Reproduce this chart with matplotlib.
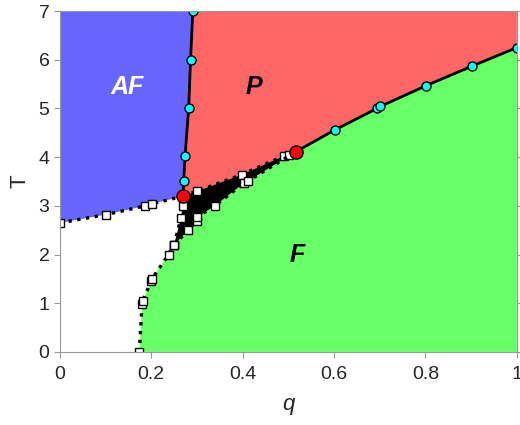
import numpy as np
import matplotlib.pyplot as plt

plt.rcParams['font.family'] = ['Liberation Sans', 'DejaVu Sans']

# frontera AF | P (linea solida, circulos cian)
q_afp = [0.270, 0.271, 0.274, 0.282, 0.286, 0.291]
T_afp = [3.20, 3.51, 4.02, 5.01, 5.99, 7.00]

# frontera P | F (linea solida, circulos cian)
q_pf = [0.516, 0.602, 0.694, 0.701, 0.802, 0.902, 1.000]
T_pf = [4.11, 4.56, 5.00, 5.04, 5.47, 5.87, 6.25]

# frontera AF | blanco (punteada, cuadrados)
q_afw = [0.0, 0.101, 0.187, 0.202, 0.270]
T_afw = [2.65, 2.82, 3.00, 3.04, 3.20]

# frontera blanco | F (punteada, cuadrados)
q_wf = [0.174, 0.180, 0.181, 0.200, 0.201, 0.238, 0.250]
T_wf = [0.00, 0.98, 1.05, 1.45, 1.49, 2.00, 2.20]

# region negra: borde izquierdo, superior e inferior
q_bl = [0.250, 0.265, 0.269, 0.270]
T_bl = [2.20, 2.75, 3.00, 3.20]
q_bu = [0.270, 0.300, 0.398, 0.491, 0.502, 0.516]
T_bu = [3.20, 3.30, 3.64, 4.03, 4.04, 4.11]
q_bd = [0.250, 0.281, 0.300, 0.301, 0.339, 0.402, 0.412, 0.516]
T_bd = [2.20, 2.50, 2.69, 2.77, 3.00, 3.46, 3.51, 4.11]

# puntos triples
q_tri = [0.270, 0.516]
T_tri = [3.20, 4.11]

fig = plt.figure(figsize=(5.2, 4.25), dpi=100)
ax = fig.add_axes([0.115, 0.172, 0.879, 0.802])

azul = '#6666ff'
rojo = '#ff6666'
verde = '#66ff66'

# AF
px = np.concatenate([q_afw, q_afp, [0.0]])
py = np.concatenate([T_afw, T_afp, [7.0]])
ax.fill(px, py, color=azul, lw=0)

# P
px = np.concatenate([q_afp, [1.0], q_pf[::-1], q_bu[::-1]])
py = np.concatenate([T_afp, [7.0], T_pf[::-1], T_bu[::-1]])
ax.fill(px, py, color=rojo, lw=0)

# F
px = np.concatenate([q_wf, q_bd, q_pf, [1.0]])
py = np.concatenate([T_wf, T_bd, T_pf, [0.0]])
ax.fill(px, py, color=verde, lw=0)

# region negra
px = np.concatenate([q_bl, q_bu, q_bd[::-1]])
py = np.concatenate([T_bl, T_bu, T_bd[::-1]])
ax.fill(px, py, color='black', lw=0)

# lineas punteadas con cuadrados
for qq, tt in [(q_afw, T_afw), (q_wf, T_wf), (q_bl, T_bl), (q_bu, T_bu), (q_bd, T_bd)]:
    ax.plot(qq, tt, ':', color='black', lw=2.4)
    ax.plot(qq, tt, 's', ms=5.5, mfc='white', mec='black', mew=1)

# lineas solidas con circulos
ax.plot(q_afp, T_afp, '-', color='black', lw=2)
ax.plot(q_afp[1:], T_afp[1:], 'o', ms=6.5, mfc='cyan', mec='black', mew=1)
ax.plot(q_pf, T_pf, '-', color='black', lw=2)
ax.plot(q_pf[1:], T_pf[1:], 'o', ms=6.5, mfc='cyan', mec='black', mew=1)
ax.plot(q_tri, T_tri, 'o', ms=9.5, mfc='red', mec='black', mew=1, zorder=5)

ax.text(0.147, 5.44, 'AF', color='white', fontsize=18, fontweight='bold',
        fontstyle='italic', ha='center', va='center')
ax.text(0.424, 5.44, 'P', color='black', fontsize=18, fontweight='bold',
        fontstyle='italic', ha='center', va='center')
ax.text(0.52, 1.99, 'F', color='black', fontsize=18, fontweight='bold',
        fontstyle='italic', ha='center', va='center')

ax.set_xlim(0, 1)
ax.set_ylim(0, 7)
ax.set_xticks([0, 0.2, 0.4, 0.6, 0.8, 1])
ax.set_xticklabels(['0', '0.2', '0.4', '0.6', '0.8', '1'])
ax.set_yticks(range(8))
ax.tick_params(direction='out', length=4, color='#999999', labelsize=14,
               labelcolor='#262626', right=True)
ax.tick_params(axis='x', pad=6)
for s in ax.spines.values():
    s.set_color('#999999')
ax.set_xlabel('q', fontsize=16, fontstyle='italic', color='#262626', labelpad=8)
ax.set_ylabel('T', fontsize=16, color='#262626', labelpad=6)

fig.savefig('out.png')
